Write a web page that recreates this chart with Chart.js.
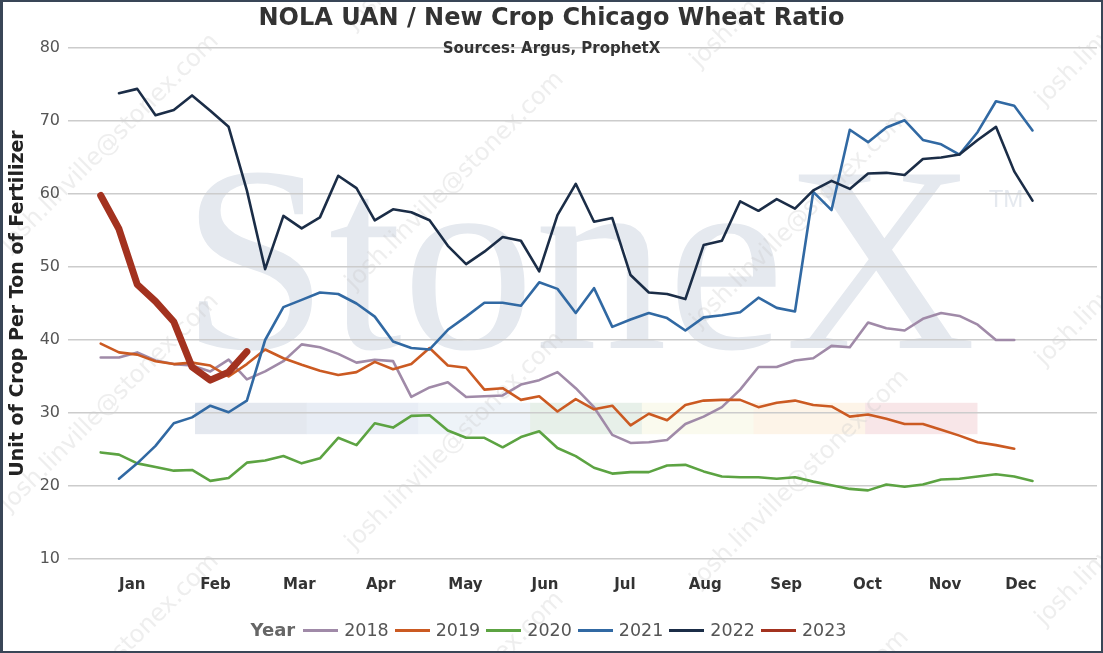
<!DOCTYPE html>
<html>
<head>
<meta charset="utf-8">
<title>NOLA UAN / New Crop Chicago Wheat Ratio</title>
<script src="https://cdn.jsdelivr.net/npm/chart.js@4.4.0/dist/chart.umd.min.js"></script>
<style>
    body { margin: 0; background: #fff; }
    #wrap { position: relative; width: 1103px; height: 653px; font-family: 'DejaVu Sans', Verdana, sans-serif; overflow: hidden; }
    #myChart { position: absolute; left: 0; top: 0; }
    #frame { position: absolute; left: 0; top: 0; width: 1103px; height: 653px; box-sizing: border-box; border: 2px solid #394657; border-left-width: 3px; pointer-events: none; }
    #title { position: absolute; left: 0; top: 5px; width: 100%; text-align: center; font-size: 24px; line-height: 24px; font-weight: bold; color: #333; }
    #subtitle { position: absolute; left: 0; top: 41px; width: 100%; text-align: center; font-size: 15px; line-height: 15px; font-weight: bold; color: #333; }
    #legend { position: absolute; left: 0; top: 621px; width: 100%; display: flex; justify-content: center; align-items: center; font-size: 17.5px; line-height: 18px; color: #555; }
    #legend .ttl { font-weight: bold; font-size: 18px; color: #666; margin-right: 8px; }
    #legend .sw { display: inline-block; width: 35px; height: 3px; margin-right: 6px; }
    #legend .lb { margin-right: 6px; }
</style>
</head>
<body>
<div id="wrap">
    <canvas id="myChart" width="1103" height="653"></canvas>
    <div id="title">NOLA UAN / New Crop Chicago Wheat Ratio</div>
    <div id="subtitle">Sources: Argus, ProphetX</div>
    <div id="legend"></div>
    <div id="frame"></div>
</div>
<script>
'use strict';

// weekly points, index 0 = first week of January
let monthLabels = ['Jan', 'Feb', 'Mar', 'Apr', 'May', 'Jun', 'Jul', 'Aug', 'Sep', 'Oct', 'Nov', 'Dec'];
let monthTicks = [1.73, 6.28, 10.87, 15.33, 19.96, 24.32, 28.69, 33.09, 37.52, 41.97, 46.21, 50.37];
let yTicks = [10, 20, 30, 40, 50, 60, 70, 80];

let years = ['2018', '2019', '2020', '2021', '2022', '2023'];
let colors = ['#a08aa8', '#cb5a22', '#5ca342', '#3169a3', '#1b2d47', '#a3321f'];

let ratio2018 = [37.6, 37.6, 38.3, 37.2, 36.7, 36.5, 35.7, 37.3, 34.6, 35.7, 37.1, 39.4, 39.0, 38.1, 36.9, 37.3,
    37.1, 32.2, 33.5, 34.2, 32.2, 32.3, 32.4, 33.9, 34.5, 35.6, 33.4, 30.8, 27.0, 25.9, 26.0, 26.3, 28.5, 29.5,
    30.8, 33.2, 36.3, 36.3, 37.2, 37.5, 39.2, 39.0, 42.4, 41.6, 41.3, 42.9, 43.7, 43.3, 42.1, 40.0, 40.0];
let ratio2019 = [39.5, 38.3, 38.0, 37.1, 36.7, 36.9, 36.5, 35.0, 36.7, 38.7, 37.5, 36.6, 35.8, 35.2, 35.6, 37.0,
    36.0, 36.7, 38.9, 36.5, 36.2, 33.2, 33.4, 31.8, 32.3, 30.2, 31.9, 30.5, 31.0, 28.3, 29.9, 29.0, 31.1, 31.7,
    31.8, 31.8, 30.8, 31.4, 31.7, 31.1, 30.9, 29.5, 29.8, 29.2, 28.5, 28.5, 27.7, 26.9, 26.0, 25.6, 25.1];
let ratio2020 = [24.6, 24.3, 23.1, 22.6, 22.1, 22.2, 20.7, 21.1, 23.2, 23.5, 24.1, 23.1, 23.8, 26.6, 25.6, 28.6,
    28.0, 29.6, 29.7, 27.6, 26.6, 26.6, 25.3, 26.7, 27.5, 25.2, 24.1, 22.5, 21.7, 21.9, 21.9, 22.8, 22.9, 22.0,
    21.3, 21.2, 21.2, 21.0, 21.2, 20.6, 20.1, 19.6, 19.4, 20.2, 19.9, 20.2, 20.9, 21.0, 21.3, 21.6, 21.3, 20.7];
let ratio2021 = [null, 21.0, 23.1, 25.5, 28.6, 29.4, 31.0, 30.1, 31.7, 40.0, 44.5, 45.5, 46.5, 46.3, 45.0, 43.2,
    39.8, 38.9, 38.7, 41.4, 43.2, 45.1, 45.1, 44.7, 47.9, 47.0, 43.7, 47.1, 41.8, 42.8, 43.7, 43.0, 41.3, 43.1,
    43.4, 43.8, 45.8, 44.4, 43.9, 60.3, 57.8, 68.8, 67.1, 69.1, 70.1, 67.4, 66.8, 65.4, 68.5, 72.7, 72.1, 68.7];
let ratio2022 = [null, 73.8, 74.4, 70.8, 71.5, 73.5, 71.4, 69.2, 60.5, 49.7, 57.0, 55.3, 56.8, 62.5, 60.8, 56.4,
    57.9, 57.5, 56.4, 52.9, 50.4, 52.1, 54.1, 53.6, 49.4, 57.1, 61.4, 56.2, 56.7, 48.9, 46.5, 46.3, 45.6, 53.0,
    53.6, 59.0, 57.7, 59.3, 58.0, 60.5, 61.8, 60.7, 62.8, 62.9, 62.6, 64.8, 65.0, 65.4, 67.4, 69.2, 63.1, 59.1];
let ratio2023 = [59.8, 55.2, 47.6, 45.3, 42.5, 36.3, 34.5, 35.6, 38.4];

let seriesValues = [ratio2018, ratio2019, ratio2020, ratio2021, ratio2022, ratio2023];

// faint logo band colours behind the plot
let bandColors = ['#e4e8ef', '#e8edf5', '#eef3f8', '#e7f0e9', '#fafaee', '#fdf4e8', '#f8e6e8'];

document.addEventListener('DOMContentLoaded', function() {
    buildLegend();
    drawChart();
});

function toPoints(values) {
    return values.map(function(v, i) {
        return { x: i, y: v };
    });
}

function buildLegend() {
    let legend = document.getElementById('legend');
    let html = '<span class="ttl">Year</span>';
    for (let i = 0; i < years.length; i++) {
        html += '<span class="sw" style="background:' + colors[i] + '"></span><span class="lb">' + years[i] + '</span>';
    }
    legend.innerHTML = html;
}

const watermark = {
    id: 'watermark',
    beforeDraw(chart) {
        let ctx = chart.ctx;
        let xs = chart.scales.x;
        let ys = chart.scales.y;
        ctx.save();

        // big StoneX logo text
        ctx.fillStyle = '#e5e9ef';
        ctx.font = '265px "Liberation Serif"';
        ctx.textAlign = 'left';
        ctx.textBaseline = 'alphabetic';
        ctx.fillText('StoneX', xs.getPixelForValue(4.4), ys.getPixelForValue(38.9));
        ctx.font = '24px "Liberation Sans"';
        ctx.fillText('TM', xs.getPixelForValue(48.6), ys.getPixelForValue(58.2));

        // coloured bar of the logo
        let top = ys.getPixelForValue(31.4);
        let bottom = ys.getPixelForValue(27.1);
        let left = xs.getPixelForValue(5.16);
        let right = xs.getPixelForValue(47.96);
        let seg = (right - left) / bandColors.length;
        for (let k = 0; k < bandColors.length; k++) {
            ctx.fillStyle = bandColors[k];
            ctx.fillRect(left + k * seg, top, seg + 0.5, bottom - top);
        }

        // diagonal e-mail stamps
        ctx.fillStyle = 'rgba(200,200,200,0.3)';
        ctx.font = '24px "DejaVu Sans"';
        ctx.textAlign = 'center';
        ctx.textBaseline = 'middle';
        for (let i = 0; i < 4; i++) {
            for (let j = -1; j < 3; j++) {
                ctx.save();
                ctx.translate(110 + 345 * i, 143 + 260 * j + 38 * i);
                ctx.rotate(-Math.PI / 4);
                ctx.fillText('josh.linville@stonex.com', 0, 0);
                ctx.restore();
            }
        }
        ctx.restore();
    }
};

function drawChart() {
    Chart.defaults.font.family = "'DejaVu Sans', Verdana, sans-serif";

    let order = [5, 4, 3, 2, 1, 0];
    let datasets = [];
    for (let i = 0; i < years.length; i++) {
        datasets.push({
            label: years[i],
            data: toPoints(seriesValues[i]),
            borderColor: colors[i],
            backgroundColor: colors[i],
            borderWidth: years[i] == '2023' ? 7 : 2.6,
            pointRadius: 0,
            tension: 0,
            fill: false,
            borderJoinStyle: 'round',
            borderCapStyle: 'round',
            order: order[i]
        });
    }

    var ctx = document.getElementById('myChart').getContext('2d');
    var chart = new Chart(ctx, {
        type: 'line',
        data: { datasets: datasets },
        options: {
            responsive: false,
            animation: false,
            layout: { padding: { top: 48, right: 6, bottom: 0, left: 0 } },
            plugins: {
                legend: { display: false },
                tooltip: { enabled: false },
                title: { display: false }
            },
            scales: {
                x: {
                    type: 'linear',
                    min: -1.79,
                    max: 54.53,
                    grid: { display: false, drawTicks: false },
                    border: { display: false },
                    afterFit: function(scale) { scale.height = 94; },
                    afterBuildTicks: function(scale) {
                        scale.ticks = monthTicks.map(function(v) { return { value: v }; });
                    },
                    ticks: {
                        autoSkip: false,
                        maxRotation: 0,
                        padding: 17,
                        color: '#333',
                        font: { size: 15, weight: 'bold' },
                        callback: function(value, index) { return monthLabels[index]; }
                    }
                },
                y: {
                    min: 10,
                    max: 80,
                    grid: { color: '#cccccc', lineWidth: 1.5, drawTicks: false },
                    border: { display: false },
                    afterFit: function(scale) { scale.width = 68; },
                    afterBuildTicks: function(scale) {
                        scale.ticks = yTicks.map(function(v) { return { value: v }; });
                    },
                    ticks: {
                        padding: 8,
                        color: '#555',
                        font: { size: 16 }
                    },
                    title: {
                        display: true,
                        text: 'Unit of Crop Per Ton of Fertilizer',
                        color: '#222',
                        font: { size: 19, weight: 'bold' },
                        padding: { top: 7, bottom: 0 }
                    }
                }
            }
        },
        plugins: [watermark]
    });
}
</script>
</body>
</html>
